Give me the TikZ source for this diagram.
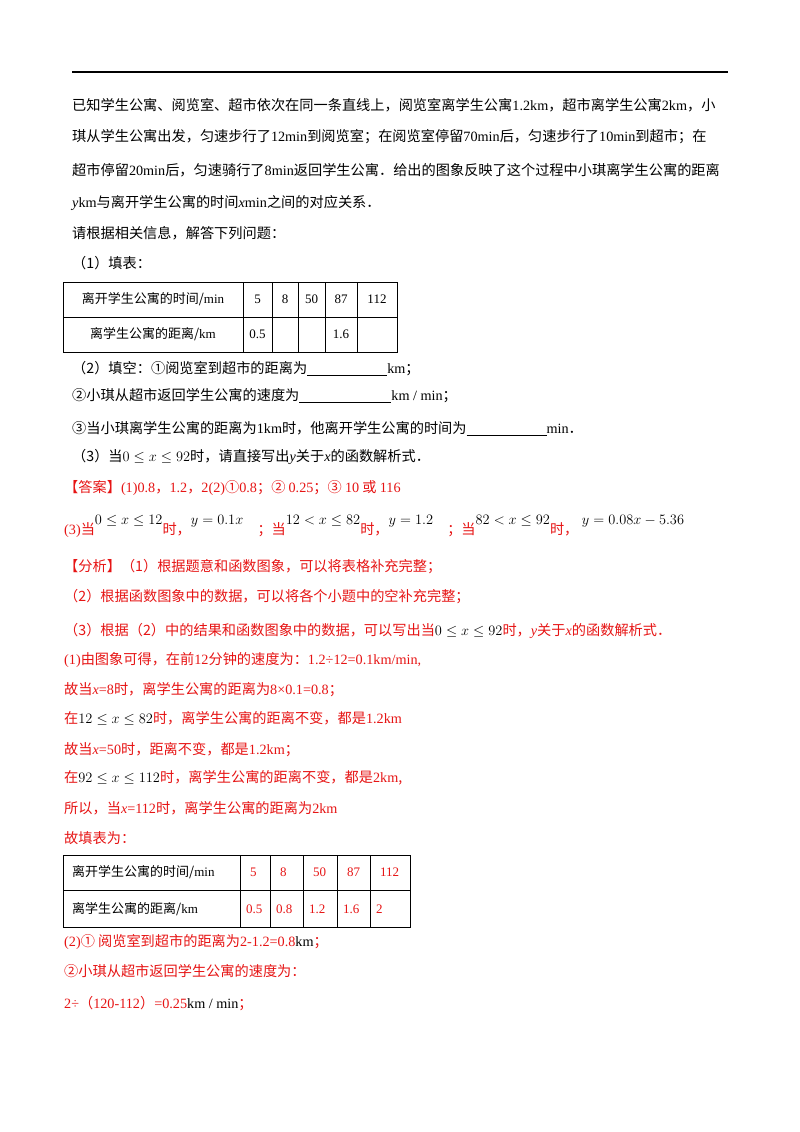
\documentclass[tikz,border=0pt]{standalone}
\usepackage{fontspec}
\setmainfont{Liberation Serif}
\newfontfamily\cjk{Noto Sans CJK SC}
\usepackage{amsmath}
\definecolor{ansred}{RGB}{230,20,20}
\tikzset{
  txt/.style={anchor=west,inner sep=0pt,font=\fontsize{14.2}{16}\selectfont\cjk},
  red txt/.style={txt,text=ansred},
  cell/.style={inner sep=0pt,font=\fontsize{13}{15}\selectfont}
}
\begin{document}
\begin{tikzpicture}[x=1pt,y=-1pt]
  \useasboundingbox (0,0) rectangle (800,1132);
  \draw[line width=1.2pt] (72,72) -- (728,72);
  % problem text
  \node[txt] (l1) at (72,105) {已知学生公寓、阅览室、超市依次在同一条直线上，阅览室离学生公寓{\rmfamily 1.2km}，超市离学生公寓{\rmfamily 2km}，小};
  \node[txt] (l2) at (72,137) {琪从学生公寓出发，匀速步行了{\rmfamily 12min}到阅览室；在阅览室停留{\rmfamily 70min}后，匀速步行了{\rmfamily 10min}到超市；在};
  \node[txt] (l3) at (72,170) {超市停留{\rmfamily 20min}后，匀速骑行了{\rmfamily 8min}返回学生公寓．给出的图象反映了这个过程中小琪离学生公寓的距离};
  \node[txt] (l4) at (72,203) {{\rmfamily\itshape y}{\rmfamily km}与离开学生公寓的时间{\rmfamily\itshape x}{\rmfamily min}之间的对应关系．};
  \node[txt] (l5) at (72,233) {请根据相关信息，解答下列问题：};
  \node[txt] (l6) at (72,263) {（1）填表：};
  % table 1
  \draw (63,282) rectangle (397,352);
  \draw (63,317) -- (397,317);
  \foreach \cx in {243,272,298,325,357}
    \draw (\cx,282) -- (\cx,352);
  \node[cell] (t1h) at (153,299) {\cjk 离开学生公寓的时间/\rmfamily min};
  \node[cell] (t1d) at (153,334) {\cjk 离学生公寓的距离/\rmfamily km};
  \foreach \cx/\v in {257.5/5,285/8,311.5/50,341/87,377/112}
    \node[cell] at (\cx,299) {\v};
  \node[cell] at (257.5,334) {0.5};
  \node[cell] at (341,334) {1.6};
  % part 2, 3
  \node[txt] (q2) at (72,369) {（2）填空：①阅览室到超市的距离为\rule[-2pt]{80pt}{0.5pt}{\rmfamily km}；};
  \node[txt] (q2b) at (72,396) {②小琪从超市返回学生公寓的速度为\rule[-2pt]{92pt}{0.5pt}{\rmfamily km / min}；};
  \node[txt] (q2c) at (72,428) {③当小琪离学生公寓的距离为{\rmfamily 1km}时，他离开学生公寓的时间为\rule[-2pt]{80pt}{0.5pt}{\rmfamily min}．};
  \node[txt] (q3) at (72,457) {（3）当{\rmfamily $0\le x\le 92$}时，请直接写出{\rmfamily\itshape y}关于{\rmfamily\itshape x}的函数解析式．};
  % answer
  \node[red txt] (ans) at (64,488) {【答案】{\rmfamily (1)0.8}，{\rmfamily 1.2}，{\rmfamily 2(2)}①{\rmfamily 0.8}；② {\rmfamily 0.25}；③ {\rmfamily 10} 或 {\rmfamily 116}};
  \node[red txt] (ans3) at (64,526) {{\rmfamily (3)}当\raisebox{10pt}{\textcolor{black}{\rmfamily $0\le x\le 12$}}时，\raisebox{10pt}{\textcolor{black}{\rmfamily $y=0.1x$}}\quad；当\raisebox{10pt}{\textcolor{black}{\rmfamily $12<x\le 82$}}时，\raisebox{10pt}{\textcolor{black}{\rmfamily $y=1.2$}}\quad；当\raisebox{10pt}{\textcolor{black}{\rmfamily $82<x\le 92$}}时，\raisebox{10pt}{\textcolor{black}{\rmfamily \ $y=0.08x-5.36$}}};
  % analysis
  \node[red txt] (a1) at (64,567) {【分析】（1）根据题意和函数图象，可以将表格补充完整；};
  \node[red txt] (a2) at (64,597) {（2）根据函数图象中的数据，可以将各个小题中的空补充完整；};
  \node[red txt] (a3) at (64,631) {（3）根据（2）中的结果和函数图象中的数据，可以写出当\textcolor{black}{\rmfamily $0\le x\le 92$}时，{\rmfamily\itshape y}关于{\rmfamily\itshape x}的函数解析式．};
  \node[red txt] (a4) at (64,660) {{\rmfamily (1)}由图象可得，在前{\rmfamily 12}分钟的速度为：{\rmfamily 1.2÷12=0.1km/min,}};
  \node[red txt] (a5) at (64,690) {故当{\rmfamily\itshape x}{\rmfamily =8}时，离学生公寓的距离为{\rmfamily 8×0.1=0.8}；};
  \node[red txt] (a6) at (64,718) {在\textcolor{black}{\rmfamily $12\le x\le 82$}时，离学生公寓的距离不变，都是{\rmfamily 1.2km}};
  \node[red txt] (a7) at (64,750) {故当{\rmfamily\itshape x}{\rmfamily =50}时，距离不变，都是{\rmfamily 1.2km}；};
  \node[red txt] (a8) at (64,778) {在\textcolor{black}{\rmfamily $92\le x\le 112$}时，离学生公寓的距离不变，都是{\rmfamily 2km},};
  \node[red txt] (a9) at (64,808) {所以，当{\rmfamily\itshape x}{\rmfamily =112}时，离学生公寓的距离为{\rmfamily 2km}};
  \node[red txt] (a10) at (64,838) {故填表为：};
  % table 2
  \draw (63,855) rectangle (410,927);
  \draw (63,890) -- (410,890);
  \foreach \cx in {240,270,303,337,370}
    \draw (\cx,855) -- (\cx,927);
  \node[cell,anchor=west] (t2h) at (72,872) {\cjk 离开学生公寓的时间/\rmfamily min};
  \node[cell,anchor=west] (t2d) at (72,909) {\cjk 离学生公寓的距离/\rmfamily km};
  \foreach \cx/\v in {250/5,280/8,313/50,347/87,380/112}
    \node[cell,anchor=west,text=ansred] at (\cx,872) {\v};
  \foreach \cx/\v in {246/0.5,276/0.8,309/1.2,343/1.6,376/2}
    \node[cell,anchor=west,text=ansred] at (\cx,909) {\v};
  % part 2 solution
  \node[red txt] (s1) at (64,942) {{\rmfamily (2)}① 阅览室到超市的距离为{\rmfamily 2-1.2=0.8}\textcolor{black}{\rmfamily km}；};
  \node[red txt] (s2) at (64,971) {②小琪从超市返回学生公寓的速度为：};
  \node[red txt] (s3) at (64,1004) {{\rmfamily 2÷}（{\rmfamily 120-112}）{\rmfamily =0.25}\textcolor{black}{\rmfamily km / min}；};
\end{tikzpicture}
\end{document}
